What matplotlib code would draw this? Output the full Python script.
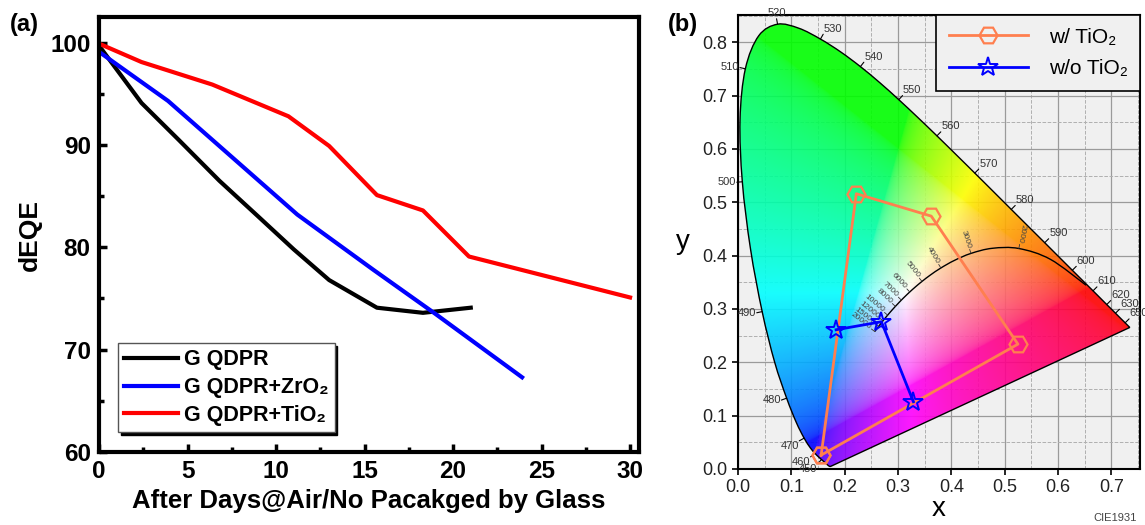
import numpy as np
import matplotlib
matplotlib.use('Agg')
import matplotlib.pyplot as plt
from matplotlib.patches import PathPatch
from matplotlib.path import Path
from matplotlib.ticker import MultipleLocator, FormatStrFormatter

plt.rcParams['font.family'] = ['Liberation Sans', 'DejaVu Sans']

# ---- (a) dEQE vs days in air ----
days_qdpr = [0, 2.4, 4.5, 6.8, 9.0, 11.0, 13.0, 15.7, 18.3, 21.0]
deqe_qdpr = [99.7, 94.1, 90.5, 86.5, 83.0, 79.8, 76.8, 74.1, 73.6, 74.1]
days_zro2 = [0, 3.9, 11.2, 15.5, 19.0, 23.9]
deqe_zro2 = [99.1, 94.3, 83.2, 77.8, 73.5, 67.3]
days_tio2 = [0, 2.4, 6.4, 10.7, 13.0, 15.7, 18.3, 20.9, 30.0]
deqe_tio2 = [99.9, 98.1, 95.9, 92.8, 89.9, 85.1, 83.6, 79.1, 75.1]
labels_a = ['G QDPR', 'G QDPR+ZrO\u2082', 'G QDPR+TiO\u2082']

# ---- (b) CIE 1931 ----
wl = [380, 390, 400, 410, 420, 430, 440, 445, 450, 455, 460, 465, 470, 475, 480,
      485, 490, 495, 500, 505, 510, 515, 520, 525, 530, 535, 540, 545, 550, 555,
      560, 565, 570, 575, 580, 585, 590, 595, 600, 605, 610, 615, 620, 625, 630,
      635, 640, 645, 650, 660, 670, 680, 700]
locus_x = [0.1741, 0.1738, 0.1733, 0.1726, 0.1714, 0.1689, 0.1644, 0.1611, 0.1566,
           0.1510, 0.1440, 0.1355, 0.1241, 0.1096, 0.0913, 0.0687, 0.0454, 0.0235,
           0.0082, 0.0039, 0.0139, 0.0389, 0.0743, 0.1142, 0.1547, 0.1929, 0.2296,
           0.2658, 0.3016, 0.3373, 0.3731, 0.4087, 0.4441, 0.4788, 0.5125, 0.5448,
           0.5752, 0.6029, 0.6270, 0.6482, 0.6658, 0.6801, 0.6915, 0.7006, 0.7079,
           0.7140, 0.7190, 0.7230, 0.7260, 0.7300, 0.7320, 0.7334, 0.7347]
locus_y = [0.0050, 0.0049, 0.0048, 0.0048, 0.0051, 0.0069, 0.0109, 0.0138, 0.0177,
           0.0227, 0.0297, 0.0399, 0.0578, 0.0868, 0.1327, 0.2007, 0.2950, 0.4127,
           0.5384, 0.6548, 0.7502, 0.8120, 0.8338, 0.8262, 0.8059, 0.7816, 0.7543,
           0.7243, 0.6923, 0.6589, 0.6245, 0.5896, 0.5547, 0.5202, 0.4866, 0.4544,
           0.4242, 0.3965, 0.3725, 0.3514, 0.3340, 0.3197, 0.3083, 0.2993, 0.2920,
           0.2859, 0.2809, 0.2770, 0.2740, 0.2700, 0.2680, 0.2666, 0.2653]
wl_labels = [450, 460, 470, 480, 490, 500, 510, 520, 530, 540, 550, 560, 570, 580,
             590, 600, 610, 620, 630, 650]

cct = [1000, 1500, 2000, 2500, 3000, 3500, 4000, 4500, 5000, 5500, 6000, 6500,
       7000, 8000, 9000, 10000, 12000, 15000, 20000]
planck_x = [0.6527, 0.5857, 0.5267, 0.4770, 0.4369, 0.4053, 0.3805, 0.3608, 0.3451,
            0.3325, 0.3221, 0.3135, 0.3064, 0.2952, 0.2869, 0.2807, 0.2719, 0.2637,
            0.2565]
planck_y = [0.3445, 0.3931, 0.4133, 0.4137, 0.4041, 0.3907, 0.3768, 0.3636, 0.3516,
            0.3411, 0.3318, 0.3236, 0.3166, 0.3048, 0.2956, 0.2884, 0.2778, 0.2672,
            0.2577]
cct_labels = [2000, 3000, 4000, 5000, 6000, 7000, 8000, 10000, 12000, 15000, 20000]

with_x = [0.156, 0.222, 0.3625, 0.525, 0.156]
with_y = [0.026, 0.516, 0.474, 0.234, 0.026]
without_x = [0.184, 0.269, 0.329]
without_y = [0.261, 0.276, 0.126]


def smooth_path(xs, ys, closed=False):
    # cubic bezier segments through the given points (Catmull-Rom tangents)
    p = np.column_stack([xs, ys])
    n = len(p)
    verts = [p[0]]
    codes = [Path.MOVETO]
    for i in range(n - 1):
        p0 = p[i - 1] if i > 0 else p[i]
        p3 = p[i + 2] if i + 2 < n else p[i + 1]
        c1 = p[i] + (p[i + 1] - p0) / 6
        c2 = p[i + 1] - (p3 - p[i]) / 6
        verts += [c1, c2, p[i + 1]]
        codes += [Path.CURVE4] * 3
    if closed:
        verts.append(p[0])
        codes.append(Path.LINETO)
    return Path(verts, codes)


fig = plt.figure(figsize=(11.45, 5.25), dpi=100)

# ================= panel (a) =================
ax1 = fig.add_axes([0.0865, 0.139, 0.4715, 0.8286])
ax1.plot(days_qdpr, deqe_qdpr, color='black', lw=3, label=labels_a[0])
ax1.plot(days_zro2, deqe_zro2, color='#0000ff', lw=3, label=labels_a[1])
ax1.plot(days_tio2, deqe_tio2, color='#ff0000', lw=3, label=labels_a[2])
ax1.set_xlim(0, 30.5)
ax1.set_ylim(60, 102.5)
ax1.xaxis.set_major_locator(MultipleLocator(5))
ax1.xaxis.set_minor_locator(MultipleLocator(2.5))
ax1.yaxis.set_major_locator(MultipleLocator(10))
ax1.yaxis.set_minor_locator(MultipleLocator(5))
ax1.tick_params(which='both', direction='in', width=2.5, top=False, right=False)
ax1.tick_params(which='major', length=6, labelsize=17.5, pad=6)
ax1.tick_params(which='minor', length=3.5)
for lab in ax1.get_xticklabels() + ax1.get_yticklabels():
    lab.set_fontweight('bold')
for s in ax1.spines.values():
    s.set_linewidth(3)
ax1.set_xlabel('After Days@Air/No Pacakged by Glass', fontsize=18.5, fontweight='bold',
               labelpad=4)
ax1.set_ylabel('dEQE', fontsize=19, fontweight='bold', labelpad=6)
leg1 = ax1.legend(loc='lower left', bbox_to_anchor=(0.035, 0.045),
                  prop=dict(weight='bold', size=15.5), fancybox=False, edgecolor='#555555',
                  framealpha=1, shadow={'color': 'black', 'alpha': 1},
                  handlelength=2.5, handletextpad=0.25, labelspacing=0.32,
                  borderpad=0.3, borderaxespad=0)
leg1.get_frame().set_linewidth(1)
fig.text(0.009, 0.94, '(a)', fontsize=17, fontweight='bold')

# ================= panel (b) =================
ax2 = fig.add_axes([0.6445, 0.1067, 0.3511, 0.8647])
ax2.set_facecolor('#f0f0f0')
ax2.set_xlim(0, 0.7538)
ax2.set_ylim(0, 0.851)

# chromaticity colours filling the horseshoe
gx, gy = np.meshgrid(np.linspace(0, 0.76, 500), np.linspace(0.001, 0.86, 500))
xyz = np.stack([gx / gy, np.ones_like(gx), (1 - gx - gy) / gy], axis=-1)
m = np.array([[3.2406, -1.5372, -0.4986],
              [-0.9689, 1.8758, 0.0415],
              [0.0557, -0.2040, 1.0570]])
rgb = np.clip(xyz @ m.T, 0, None)
rgb = rgb / rgb.max(axis=-1, keepdims=True)
rgb = rgb ** (1 / 2.2)
img = ax2.imshow(rgb, origin='lower', extent=(0, 0.76, 0.001, 0.86), aspect='auto',
                 interpolation='bilinear', zorder=1, alpha=0.9)
horseshoe = PathPatch(smooth_path(locus_x, locus_y, closed=True), facecolor='none',
                      edgecolor='black', lw=1, zorder=3)
ax2.add_patch(horseshoe)
img.set_clip_path(horseshoe)

# grid
ax2.xaxis.set_major_locator(MultipleLocator(0.1))
ax2.yaxis.set_major_locator(MultipleLocator(0.1))
ax2.xaxis.set_minor_locator(MultipleLocator(0.05))
ax2.yaxis.set_minor_locator(MultipleLocator(0.05))
ax2.set_axisbelow(True)
ax2.grid(which='major', color='#9a9a9a', lw=0.9)
ax2.grid(which='minor', color='#b0b0b0', lw=0.7, ls='--')
ax2.tick_params(which='major', direction='out', length=4, width=1.2, labelsize=13,
                labelcolor='#222222', top=False, right=False)
ax2.tick_params(which='minor', length=0)
ax2.xaxis.set_major_formatter(FormatStrFormatter('%.1f'))
ax2.yaxis.set_major_formatter(FormatStrFormatter('%.1f'))
for s in ax2.spines.values():
    s.set_linewidth(1.5)

# wavelength ticks and labels
lx = np.array(locus_x)
ly = np.array(locus_y)
for w in wl_labels:
    i = wl.index(w)
    tx = lx[i + 1] - lx[i - 1]
    ty = ly[i + 1] - ly[i - 1]
    nx, ny = ty, -tx
    if nx * (lx[i] - 0.33) + ny * (ly[i] - 0.33) < 0:
        nx, ny = -nx, -ny
    n = np.hypot(nx, ny)
    nx, ny = nx / n, ny / n
    ax2.annotate('', xy=(lx[i], ly[i]), xytext=(nx * 4, ny * 4), textcoords='offset points',
                 arrowprops=dict(arrowstyle='-', lw=0.8, color='black', shrinkA=0, shrinkB=0),
                 zorder=4)
    ha = 'left' if nx > 0.35 else ('right' if nx < -0.35 else 'center')
    va = 'bottom' if ny > 0.35 else ('top' if ny < -0.35 else 'center')
    ax2.annotate(str(w), xy=(lx[i], ly[i]), xytext=(nx * 4.5, ny * 4.5),
                 textcoords='offset points', ha=ha, va=va, fontsize=8,
                 color='#333333', zorder=4, annotation_clip=False)

# Planckian locus
ax2.add_patch(PathPatch(smooth_path(planck_x, planck_y), facecolor='none',
                        edgecolor='black', lw=1, zorder=3))
px = np.array(planck_x)
py = np.array(planck_y)
for t in cct_labels:
    i = cct.index(t)
    j0, j1 = max(i - 1, 0), min(i + 1, len(cct) - 1)
    tx = px[j1] - px[j0]
    ty = py[j1] - py[j0]
    nx, ny = -ty, tx
    if ny < 0:
        nx, ny = -nx, -ny
    n = np.hypot(nx, ny)
    nx, ny = nx / n, ny / n
    ang = np.degrees(np.arctan2(ny, nx))
    ax2.annotate('', xy=(px[i], py[i]), xytext=(nx * 3, ny * 3), textcoords='offset points',
                 arrowprops=dict(arrowstyle='-', lw=0.6, color='#333333', shrinkA=0, shrinkB=0),
                 zorder=4)
    ax2.annotate(str(t), xy=(px[i], py[i]), xytext=(nx * 4, ny * 4),
                 textcoords='offset points', rotation=ang - 180, rotation_mode='anchor',
                 ha='right', va='center', fontsize=6, color='#444444', zorder=4)

ax2.plot(with_x, with_y, color='#ff7f4f', lw=2, marker='H', ms=13, mfc='none',
         mec='#ff7f4f', mew=1.6, zorder=5, label='w/ TiO\u2082')
ax2.plot(without_x, without_y, color='#0000ff', lw=2, marker='*', ms=15, mfc='none',
         mec='#0000ff', mew=1.4, zorder=6, label='w/o TiO\u2082')
leg2 = ax2.legend(loc='upper right', borderaxespad=0, fancybox=False, edgecolor='black',
                  facecolor='#f0f0f0', framealpha=1, fontsize=15, handlelength=3.8,
                  handletextpad=1.0, borderpad=0.6, labelspacing=0.6)
leg2.get_frame().set_linewidth(1.2)
leg2.set_zorder(10)

ax2.set_xlabel('x', fontsize=20, labelpad=0)
ax2.set_ylabel('y', fontsize=20, rotation=0, labelpad=14, va='center')
fig.text(0.583, 0.94, '(b)', fontsize=17, fontweight='bold')
fig.text(0.955, 0.008, 'CIE1931', fontsize=8, color='#444444')

fig.savefig('out.png', dpi=100)
